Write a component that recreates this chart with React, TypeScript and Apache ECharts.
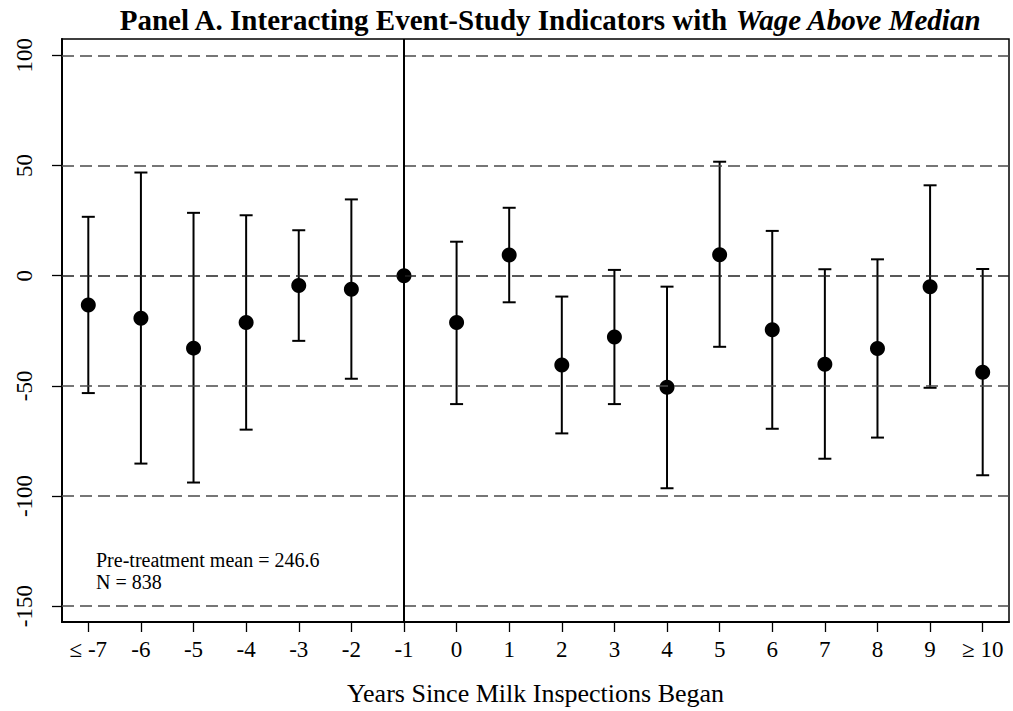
import React, { useEffect, useRef } from "react";
import * as echarts from "echarts";

const categories = ["≤ -7", "-6", "-5", "-4", "-3", "-2", "-1", "0", "1", "2", "3", "4", "5", "6", "7", "8", "9", "≥ 10"];
const coef = [-13.3, -19.3, -32.9, -21.3, -4.5, -6.2, 0, -21.3, 9.4, -40.6, -27.9, -50.7, 9.5, -24.6, -40.2, -33.1, -5.0, -43.9];
const upper = [26.7, 46.8, 28.5, 27.4, 20.6, 34.6, null, 15.4, 30.8, -9.5, 2.6, -5.0, 51.7, 20.3, 2.9, 7.4, 41.0, 3.0];
const lower = [-53.3, -85.3, -93.9, -69.9, -29.6, -46.8, null, -58.3, -12.1, -71.6, -58.3, -96.5, -32.3, -69.5, -83.1, -73.5, -50.9, -90.6];
const yTicks = [-150, -100, -50, 0, 50, 100];
const refCategory = "-1";
const noteLines = ["Pre-treatment mean = 246.6", "N = 838"];

const FONT = "'Liberation Serif', 'Times New Roman', serif";

export default function App() {
  const ref = useRef<HTMLDivElement>(null);
  useEffect(() => {
    document.body.style.margin = "0";
    if (!ref.current) return;
    const chart = echarts.init(ref.current, null, { renderer: "svg" });
    const errData: any[] = [];
    categories.forEach((c, i) => {
      if (upper[i] !== null && lower[i] !== null) errData.push([i, lower[i], upper[i]]);
    });
    const gridLines = yTicks.map((v) => ({
      yAxis: v,
      lineStyle: { color: v === 0 ? "#222" : "#4a4a4a", width: 1.5, type: [12, 6] },
    }));
    chart.setOption({
      animation: false,
      backgroundColor: "#fff",
      title: {
        text: "{b|Panel A. Interacting Event-Study Indicators with }{i|Wage Above Median}",
        left: 545,
        textAlign: "center",
        top: 0,
        textStyle: {
          rich: {
            b: { fontFamily: FONT, fontWeight: "bold", fontSize: 29, color: "#000" },
            i: { fontFamily: FONT, fontStyle: "italic", fontSize: 29, color: "#000" },
          },
        },
      },
      grid: {
        left: 62,
        right: 4,
        top: 39,
        bottom: 88,
        show: true,
        borderColor: "#000",
        borderWidth: 1.5,
        backgroundColor: "transparent",
      },
      xAxis: {
        type: "category",
        data: categories,
        boundaryGap: true,
        axisLine: { show: true, onZero: false, lineStyle: { color: "#000", width: 2 } },
        axisTick: { show: true, alignWithLabel: true, length: 10, lineStyle: { color: "#000", width: 1.3 } },
        axisLabel: { fontFamily: FONT, fontSize: 23, color: "#000", margin: 16, interval: 0 },
        splitLine: { show: false },
        name: "Years Since Milk Inspections Began",
        nameLocation: "middle",
        nameGap: 58,
        nameTextStyle: { fontFamily: FONT, fontSize: 26, color: "#000" },
      },
      yAxis: {
        type: "value",
        min: -157.2,
        max: 107.4,
        splitNumber: 5,
        axisLine: { show: true, lineStyle: { color: "#000", width: 2 } },
        axisTick: { show: true, length: 10, lineStyle: { color: "#000", width: 1.3 }, customValues: yTicks },
        axisLabel: {
          fontFamily: FONT,
          fontSize: 23,
          color: "#000",
          rotate: 90,
          margin: 26,
          customValues: yTicks,
        },
        splitLine: { show: false },
      },
      graphic: noteLines.map((t, i) => ({
        type: "text",
        left: 96,
        top: 550 + i * 21.5,
        style: {
          text: t,
          fontFamily: FONT,
          fontSize: 20,
          fill: "#000",
        },
      })),
      series: [
        {
          type: "line",
          data: [],
          silent: true,
          z: 1,
          markLine: {
            silent: true,
            symbol: "none",
            label: { show: false },
            animation: false,
            data: [
              ...gridLines,
              { xAxis: refCategory, lineStyle: { color: "#000", width: 2, type: "solid" } },
            ],
          },
        },
        {
          type: "custom",
          z: 3,
          data: errData,
          encode: { x: 0, y: [1, 2] },
          renderItem: (params: any, api: any) => {
            const x = api.value(0);
            const pLo = api.coord([x, api.value(1)]);
            const pHi = api.coord([x, api.value(2)]);
            const half = 6.5;
            const style = { stroke: "#000", lineWidth: 2, fill: "none" };
            return {
              type: "group",
              children: [
                { type: "line", shape: { x1: pHi[0], y1: pHi[1], x2: pLo[0], y2: pLo[1] }, style },
                { type: "line", shape: { x1: pHi[0] - half, y1: pHi[1], x2: pHi[0] + half, y2: pHi[1] }, style },
                { type: "line", shape: { x1: pLo[0] - half, y1: pLo[1], x2: pLo[0] + half, y2: pLo[1] }, style },
              ],
            };
          },
        },
        {
          type: "scatter",
          z: 4,
          data: coef,
          symbol: "circle",
          symbolSize: 15,
          itemStyle: { color: "#000", opacity: 1 },
        },
      ],
    });
    return () => chart.dispose();
  }, []);
  return <div ref={ref} style={{ width: 1013, height: 711 }} />;
}
